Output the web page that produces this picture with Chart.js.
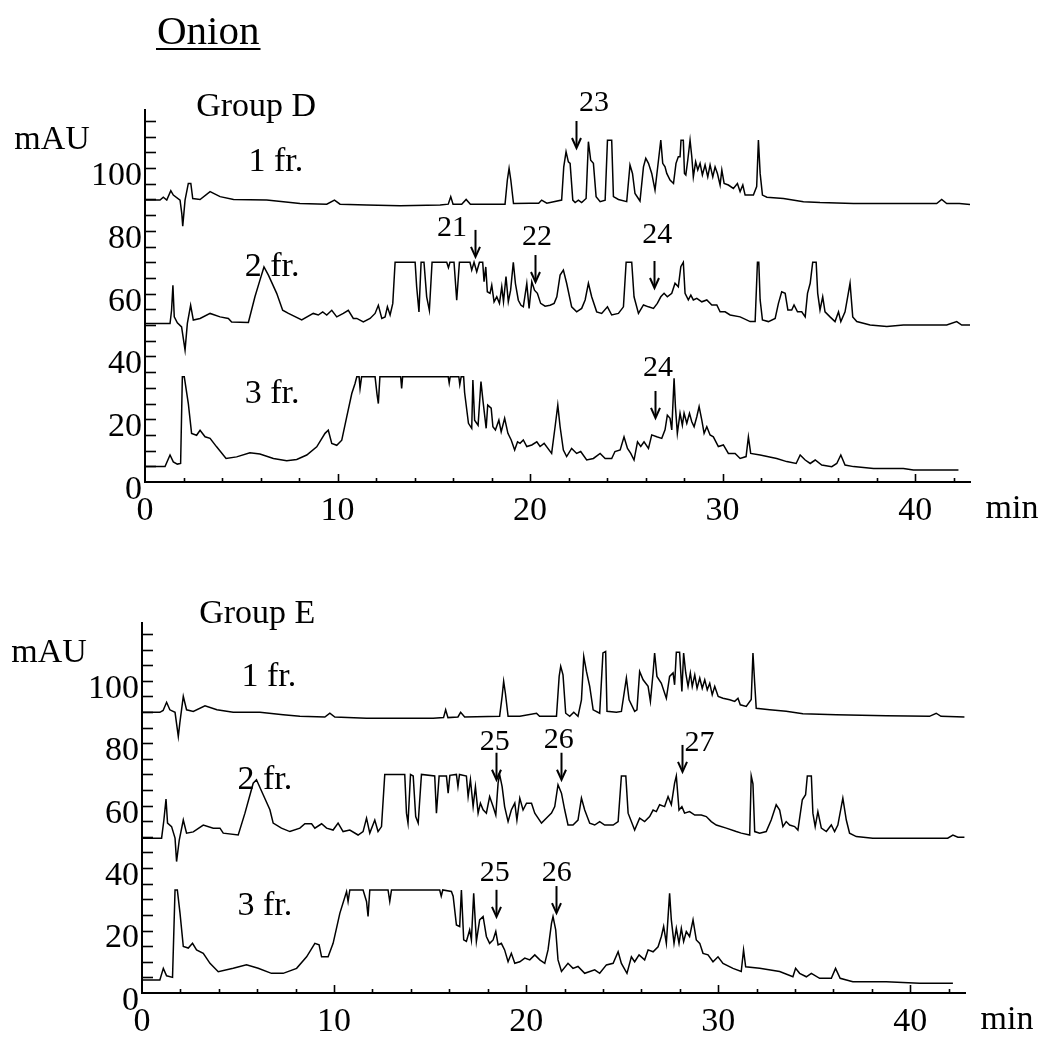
<!DOCTYPE html>
<html><head><meta charset="utf-8">
<script src="https://cdn.jsdelivr.net/npm/chart.js@4/dist/chart.umd.min.js"></script>
<style>
html,body{margin:0;padding:0;background:#fff}
body{width:1058px;height:1041px;position:relative;overflow:hidden}
.box{position:absolute;left:0;width:1058px}
#boxD{top:0;height:520px}
#boxE{top:520px;height:521px}
</style></head><body>
<div class="box" id="boxD"><canvas id="cD"></canvas></div>
<div class="box" id="boxE"><canvas id="cE"></canvas></div>
<script>
// ---------- DATA (time in min, absorbance in mAU) ----------
const xTickLabels = [0, 10, 20, 30, 40];
const yTickLabels = [0, 20, 40, 60, 80, 100];
const fractionNames = ["1 fr.", "2 fr.", "3 fr."];

// Group D, fraction 1
const traceD1 = [[0,89.8],[0.78,89.8],[0.95,90.7],[1.13,89.8],[1.34,92.8],[1.47,91.4],[1.82,89.8],[1.91,85.6],[1.96,81.5],[2.08,89.8],[2.25,95.1],[2.38,95.1],[2.48,90.3],[2.86,90.0],[3.38,92.5],[3.9,90.9],[4.6,90.0],[6.32,89.8],[7.19,89.3],[8.05,88.7],[9.44,88.5],[9.84,89.8],[10.13,88.5],[11.52,88.2],[13.25,88.0],[15.33,88.2],[15.75,88.5],[15.88,90.9],[16.0,88.5],[16.45,88.5],[16.68,90.0],[16.9,88.5],[18.7,88.5],[18.82,96.2],[18.91,99.9],[19.0,96.2],[19.14,88.7],[20.0,88.8],[20.45,88.8],[20.6,89.8],[20.87,88.8],[21.64,89.8],[21.75,100.4],[21.87,105.2],[21.99,102.0],[22.08,101.5],[22.22,89.8],[22.34,89.0],[22.51,89.8],[22.68,89.0],[22.91,90.3],[23.03,108.4],[23.15,102.5],[23.29,101.5],[23.43,90.9],[23.64,89.3],[23.9,89.8],[24.02,108.9],[24.24,108.9],[24.33,90.9],[24.59,90.0],[25.02,89.3],[25.19,101.0],[25.32,98.3],[25.45,91.9],[25.71,89.5],[25.89,100.4],[26.01,103.1],[26.15,101.5],[26.32,98.3],[26.49,93.0],[26.67,102.5],[26.79,108.9],[26.89,101.5],[27.01,100.4],[27.1,98.3],[27.27,96.2],[27.45,95.1],[27.58,101.5],[27.7,103.6],[27.79,103.6],[27.84,108.9],[27.96,108.9],[28.02,98.3],[28.09,97.8],[28.19,102.5],[28.31,108.9],[28.4,103.6],[28.48,97.2],[28.6,102.0],[28.71,99.4],[28.83,101.5],[28.95,97.8],[29.09,101.0],[29.23,97.2],[29.35,101.0],[29.49,97.2],[29.61,100.4],[29.73,98.3],[29.87,94.6],[29.96,99.4],[30.08,95.1],[30.3,94.6],[30.56,93.5],[30.77,95.1],[30.91,92.5],[31.05,94.6],[31.17,91.4],[31.6,91.4],[31.77,94.1],[31.86,108.9],[31.95,98.3],[32.07,91.4],[32.3,90.7],[33.16,90.3],[34.2,89.3],[35.06,89.0],[36.8,88.7],[41.12,88.7],[41.38,90.0],[41.64,88.7],[42.3,88.7],[42.85,88.4]];

// Group D, fraction 2
const traceD2 = [[0,50.5],[1.3,50.5],[1.38,54.7],[1.45,62.7],[1.52,52.6],[1.68,50.7],[1.9,49.4],[2.08,42.0],[2.2,50.5],[2.37,56.3],[2.51,51.6],[2.86,52.1],[3.38,53.7],[3.9,52.6],[4.33,52.1],[4.5,51.0],[5.37,50.8],[5.71,59.0],[5.97,64.3],[6.18,68.5],[6.41,65.9],[6.84,60.1],[7.15,54.7],[7.45,53.7],[8.14,51.6],[8.74,53.7],[9.0,53.2],[9.23,54.2],[9.44,53.2],[9.7,54.7],[9.96,52.6],[10.3,53.7],[10.56,54.7],[10.82,52.1],[11.0,52.1],[11.34,51.0],[11.69,52.1],[11.95,53.7],[12.12,56.3],[12.3,52.1],[12.47,52.6],[12.59,55.8],[12.73,53.2],[12.87,56.9],[12.99,70],[14.03,70],[14.11,62.2],[14.23,54.2],[14.34,70],[14.49,70],[14.63,59.0],[14.77,54.7],[14.91,70],[15.67,70],[15.76,68.3],[15.84,70],[16.05,70],[16.19,57.9],[16.33,70],[16.88,70],[16.97,67.5],[17.09,70],[17.23,67.0],[17.37,70],[17.54,70],[17.61,63.8],[17.7,68.5],[17.78,60.6],[17.92,60.1],[18.01,62.7],[18.13,57.4],[18.27,59.0],[18.41,56.9],[18.53,62.2],[18.62,57.4],[18.75,65.4],[18.87,57.4],[18.99,61.1],[19.13,70],[19.24,63.2],[19.39,57.9],[19.53,56.3],[19.65,55.8],[19.83,63.2],[19.95,55.3],[20.09,63.8],[20.23,61.1],[20.38,60.1],[20.55,56.9],[20.78,56.0],[21.04,56.3],[21.25,56.9],[21.39,59.0],[21.56,65.9],[21.73,67.5],[21.9,63.3],[22.16,55.8],[22.42,54.2],[22.68,55.3],[22.86,58.0],[23.03,63.3],[23.2,59.0],[23.46,54.2],[23.72,53.7],[24.02,55.8],[24.24,53.2],[24.59,53.7],[24.85,55.8],[24.99,70],[25.28,70],[25.4,59.0],[25.63,53.7],[25.89,56.4],[26.15,55.8],[26.41,55.3],[26.61,56.9],[26.79,59.0],[26.96,60.1],[27.13,59.0],[27.36,60.1],[27.53,63.3],[27.7,62.2],[27.83,68.6],[27.96,70],[28.05,60.1],[28.22,58.0],[28.35,59.5],[28.48,58.0],[28.66,58.5],[28.92,57.4],[29.18,58.0],[29.44,56.4],[29.7,56.4],[29.87,54.2],[30.13,54.2],[30.39,53.2],[30.91,52.6],[31.43,51.1],[31.69,51.1],[31.81,70],[31.88,70],[31.95,58.0],[32.07,51.6],[32.38,51.1],[32.73,52.1],[32.9,56.9],[33.07,60.6],[33.25,60.1],[33.39,54.8],[33.59,54.8],[33.71,56.4],[33.89,54.2],[34.11,54.2],[34.29,52.6],[34.41,60.1],[34.55,63.3],[34.68,70],[34.86,70],[34.94,60.1],[35.06,54.8],[35.2,59.0],[35.32,54.2],[35.58,52.6],[35.84,51.1],[36.02,54.2],[36.14,51.1],[36.36,54.2],[36.62,63.3],[36.76,52.6],[36.97,51.1],[37.66,50.0],[38.53,49.5],[39.39,50.0],[41.64,50.0],[42.16,51.1],[42.42,50.0],[42.85,50.0]];

// Group D, fraction 3
const traceD3 = [[0,4.9],[1.04,4.9],[1.3,8.6],[1.47,6.4],[1.68,5.7],[1.85,5.9],[1.94,33.5],[2.04,33.5],[2.25,25.0],[2.42,15.5],[2.68,14.9],[2.86,16.5],[3.12,14.4],[3.38,13.9],[3.72,11.2],[4.21,7.5],[4.76,8.0],[5.45,9.3],[5.97,8.9],[6.67,7.5],[7.36,6.8],[7.88,7.2],[8.4,8.6],[8.92,11.2],[9.35,15.5],[9.52,16.5],[9.7,12.3],[9.96,11.7],[10.22,13.3],[10.48,20.8],[10.74,28.2],[10.91,31.4],[11.0,33.5],[11.12,33.5],[11.17,29.8],[11.25,33.5],[11.95,33.5],[12.05,28.0],[12.12,25.0],[12.2,33.5],[13.28,33.5],[13.33,29.8],[13.38,33.5],[15.75,33.5],[15.8,31.5],[15.85,33.5],[16.3,33.5],[16.35,31.0],[16.42,33.5],[16.55,33.5],[16.6,28.5],[16.8,18.7],[16.97,17.1],[17.03,32.5],[17.12,19.7],[17.3,18.1],[17.45,32.0],[17.55,26.1],[17.72,17.1],[17.8,24.5],[17.98,23.5],[18.07,17.6],[18.2,16.6],[18.38,19.7],[18.5,16.0],[18.68,20.3],[18.85,15.5],[19.02,13.4],[19.2,10.2],[19.35,12.8],[19.48,12.3],[19.65,13.4],[19.83,11.3],[20.09,11.8],[20.35,12.8],[20.52,11.3],[20.73,12.3],[21.12,9.1],[21.3,17.6],[21.44,24.5],[21.56,17.6],[21.73,10.2],[21.9,8.1],[22.16,10.7],[22.42,9.1],[22.63,9.7],[22.94,7.0],[23.29,7.5],[23.64,9.1],[23.9,7.5],[24.24,7.5],[24.41,9.7],[24.68,10.2],[24.88,14.4],[25.06,10.7],[25.23,9.1],[25.4,7.0],[25.58,12.8],[25.75,11.3],[25.92,12.8],[26.15,10.7],[26.32,15.0],[26.58,14.4],[26.84,13.9],[27.01,16.6],[27.13,21.3],[27.27,20.3],[27.36,16.6],[27.48,33.0],[27.55,24.0],[27.65,15.5],[27.79,21.9],[27.91,18.1],[28.0,21.9],[28.14,18.7],[28.28,21.9],[28.4,19.2],[28.52,17.6],[28.66,20.8],[28.78,24.0],[28.92,19.7],[29.04,15.5],[29.18,17.6],[29.35,15.0],[29.52,14.4],[29.78,11.3],[30.04,11.8],[30.3,9.1],[30.65,9.1],[30.91,7.5],[31.22,8.1],[31.34,14.4],[31.46,9.1],[31.95,8.6],[32.81,7.5],[33.33,6.5],[33.82,5.9],[34.03,8.6],[34.29,7.0],[34.55,5.9],[34.81,7.0],[35.15,5.4],[35.67,4.9],[35.93,5.9],[36.14,8.6],[36.36,5.4],[36.8,4.9],[37.84,4.3],[39.39,4.3],[39.91,3.8],[42.25,3.8]];

// Group E, fraction 1
const traceE1 = [[0,89.9],[0.93,89.9],[1.1,90.5],[1.28,93.1],[1.45,90.7],[1.72,89.9],[1.89,82.2],[1.97,86.5],[2.15,95.0],[2.32,90.7],[2.67,90.2],[3.28,92.0],[3.9,90.7],[4.75,89.9],[6.14,89.9],[7.35,89.1],[8.22,88.6],[9.52,88.4],[9.78,89.6],[10.04,88.4],[11.69,88.0],[15.16,88.0],[15.7,88.2],[15.81,90.7],[15.93,88.2],[16.45,88.4],[16.59,89.9],[16.8,88.4],[18.62,88.6],[18.75,95.0],[18.83,99.8],[18.92,96.0],[19.06,88.6],[19.67,88.6],[20.54,89.6],[20.7,88.6],[21.58,88.6],[21.72,101.4],[21.8,104.6],[21.92,101.9],[22.06,89.6],[22.27,88.6],[22.48,89.9],[22.7,88.6],[22.88,93.9],[23.0,107.8],[23.14,103.0],[23.31,98.2],[23.49,90.7],[23.83,89.6],[24.0,108.9],[24.14,109.4],[24.21,90.2],[24.7,89.9],[24.96,90.2],[25.22,100.9],[25.36,93.9],[25.65,90.2],[25.77,90.7],[25.91,103.0],[26.09,100.3],[26.35,98.2],[26.47,93.4],[26.61,102.5],[26.69,108.9],[26.81,101.4],[27.04,99.2],[27.3,94.4],[27.47,101.4],[27.65,102.5],[27.73,98.7],[27.82,109.1],[27.99,109.1],[28.11,96.6],[28.2,108.9],[28.31,102.5],[28.43,98.2],[28.55,102.5],[28.65,98.2],[28.78,101.9],[28.9,97.6],[29.04,100.9],[29.17,97.6],[29.3,100.3],[29.43,97.1],[29.56,99.2],[29.69,95.5],[29.82,98.2],[30.0,95.0],[30.25,94.4],[30.6,93.9],[30.86,93.4],[31.03,94.4],[31.15,92.3],[31.46,91.8],[31.72,94.0],[31.81,108.9],[31.9,99.2],[31.98,91.2],[32.68,90.7],[33.54,90.2],[34.41,89.4],[36.15,89.1],[38.75,88.8],[41.0,88.6],[41.35,89.6],[41.6,88.6],[42.82,88.4]];

// Group E, fraction 2
const traceE2 = [[0,49.6],[1.02,49.6],[1.14,55.4],[1.25,62.1],[1.33,54.4],[1.54,53.3],[1.72,49.6],[1.8,42.1],[1.94,49.0],[2.15,55.4],[2.32,51.2],[2.67,51.6],[3.19,53.8],[3.71,52.8],[4.06,52.8],[4.23,51.2],[5.01,50.6],[5.36,57.6],[5.79,67.2],[5.96,68.3],[6.31,63.5],[6.66,58.7],[6.83,54.4],[7.26,52.8],[7.7,51.7],[8.22,52.8],[8.48,54.2],[8.83,54.2],[9.0,52.8],[9.35,54.2],[9.61,52.8],[9.95,52.2],[10.21,54.4],[10.47,51.7],[10.82,52.2],[11.25,50.6],[11.51,51.7],[11.69,56.0],[11.86,51.2],[12.12,55.4],[12.29,51.7],[12.47,53.3],[12.64,70],[13.68,70],[13.77,57.6],[13.85,54.4],[13.98,70],[14.12,69.5],[14.25,56.5],[14.38,54.4],[14.55,70],[15.24,69.5],[15.33,57.6],[15.47,69.5],[15.85,69.5],[15.94,64.0],[16.03,69.7],[16.37,70],[16.45,66.1],[16.53,70],[16.89,69.5],[16.98,62.9],[17.1,68.3],[17.24,59.7],[17.36,66.1],[17.5,57.6],[17.62,60.8],[17.76,58.7],[17.93,57.6],[18.1,62.9],[18.28,59.7],[18.42,57.0],[18.54,67.2],[18.62,70],[18.75,66.1],[18.88,59.7],[19.06,54.9],[19.23,58.6],[19.41,60.8],[19.52,55.4],[19.67,62.4],[19.84,58.6],[20.02,60.8],[20.28,60.8],[20.45,57.6],[20.8,54.4],[21.14,56.5],[21.32,57.6],[21.49,59.7],[21.66,66.7],[21.84,64.0],[22.01,58.6],[22.18,53.8],[22.44,53.8],[22.7,55.4],[22.88,62.4],[23.05,58.6],[23.31,54.4],[23.57,53.8],[23.83,54.9],[24.09,53.8],[24.53,53.8],[24.79,54.9],[24.96,69.5],[25.19,69.5],[25.31,57.6],[25.65,52.2],[25.91,56.0],[26.17,54.9],[26.43,56.5],[26.61,58.6],[26.78,58.1],[26.95,60.3],[27.21,59.7],[27.39,62.9],[27.56,60.3],[27.73,67.2],[27.82,69.5],[27.96,58.6],[28.11,59.7],[28.25,57.6],[28.51,58.1],[28.78,57.0],[29.12,57.0],[29.38,56.5],[29.64,54.9],[29.9,53.8],[30.42,52.8],[30.94,51.7],[31.2,51.2],[31.64,50.6],[31.72,69.5],[31.81,67.0],[31.9,51.7],[32.16,51.2],[32.5,51.7],[32.76,55.4],[33.02,60.3],[33.2,58.6],[33.37,53.3],[33.54,54.9],[33.72,53.8],[33.98,53.3],[34.15,52.2],[34.38,61.9],[34.55,63.5],[34.64,69.5],[34.85,69.5],[34.93,57.6],[35.05,53.3],[35.19,58.1],[35.37,52.8],[35.63,51.7],[35.89,53.8],[36.06,51.7],[36.23,53.8],[36.49,62.4],[36.67,55.4],[36.84,51.2],[37.19,50.1],[38.05,49.6],[39.61,49.6],[41.95,49.6],[42.22,50.6],[42.48,49.9],[42.82,49.9]];

// Group E, fraction 3
const traceE3 = [[0,4.2],[0.93,4.2],[1.11,7.9],[1.28,5.5],[1.59,5.0],[1.72,33.0],[1.84,33.0],[1.98,25.5],[2.15,14.9],[2.41,14.4],[2.63,15.9],[2.84,13.8],[3.19,12.7],[3.54,9.5],[3.97,6.8],[4.75,7.9],[5.44,9.0],[6.05,7.9],[6.74,6.3],[7.35,6.3],[8.05,7.9],[8.57,11.6],[9.0,15.9],[9.22,15.4],[9.35,11.6],[9.69,11.6],[9.95,15.9],[10.3,25.5],[10.65,32.5],[10.73,29.3],[10.82,33.0],[11.51,33.0],[11.69,29.3],[11.77,24.5],[11.86,33.0],[12.81,33.0],[12.9,29.3],[12.99,33.0],[15.5,33.0],[15.58,31.0],[15.66,33.0],[16.11,32.5],[16.2,31.0],[16.37,21.8],[16.54,21.3],[16.63,33.0],[16.75,17.0],[16.89,16.5],[17.06,20.2],[17.15,17.0],[17.27,31.9],[17.41,16.5],[17.58,23.4],[17.76,24.5],[17.93,18.1],[18.1,15.9],[18.28,17.0],[18.42,19.7],[18.54,15.4],[18.71,15.9],[18.88,13.8],[19.06,10.0],[19.23,12.7],[19.41,9.5],[19.67,10.0],[19.93,11.2],[20.19,10.6],[20.45,12.2],[20.71,10.6],[20.97,9.5],[21.14,13.8],[21.32,22.3],[21.4,24.5],[21.54,20.2],[21.66,10.6],[21.84,6.9],[22.18,9.5],[22.44,7.9],[22.7,8.5],[23.05,6.3],[23.57,7.4],[23.83,6.3],[24.18,9.0],[24.53,9.5],[24.79,13.2],[24.96,9.5],[25.25,6.3],[25.48,11.6],[25.65,10.0],[25.88,12.2],[26.17,10.6],[26.35,13.8],[26.61,13.2],[26.87,14.8],[27.04,18.1],[27.16,21.3],[27.3,15.9],[27.47,31.9],[27.56,23.4],[27.7,15.9],[27.82,20.7],[27.96,15.9],[28.08,20.7],[28.2,16.5],[28.34,19.7],[28.51,18.1],[28.69,23.4],[28.86,17.0],[29.04,15.9],[29.21,12.7],[29.47,12.2],[29.73,10.0],[29.99,11.6],[30.25,9.5],[30.77,7.9],[31.2,6.9],[31.32,13.8],[31.43,8.4],[32.16,7.9],[33.2,6.9],[33.89,5.2],[34.03,7.9],[34.24,6.3],[34.59,5.2],[34.85,6.3],[35.28,4.7],[35.89,4.7],[36.11,7.9],[36.35,4.7],[37.01,3.6],[38.75,3.6],[40.48,3.1],[42.22,3.1]];

// Peak annotations: label, arrow time, arrow tip (mAU), label time, label mAU
const peakLabelsD = ["23", "21", "22", "24", "24"];
const peakTimeD   = [22.39, 17.14, 20.26, 26.44, 26.49];
const peakTipD    = [106.4, 71.7, 63.7, 61.8, 20.4];
const peakLabTD   = [23.32, 15.95, 20.36, 26.6, 26.65];
const peakLabVD   = [120.7, 80.9, 78.0, 78.7, 36.3];

const peakLabelsE = ["25", "26", "27", "25", "26"];
const peakTimeE   = [18.42, 21.8, 28.1, 18.42, 21.54];
const peakTipE    = [68.3, 68.3, 70.8, 24.4, 25.6];
const peakLabTE   = [18.37, 21.7, 29.03, 18.37, 21.6];
const peakLabVE   = [80.4, 81.1, 80.1, 38.5, 38.5];

// Fraction label anchors (min, mAU)
const fracTimeD = [6.8, 6.6, 6.6];
const fracMauD  = [102.0, 68.5, 28.0];
const fracTimeE = [6.6, 6.4, 6.4];
const fracMauE  = [101.3, 68.3, 27.9];
const groupD = {name: "Group D", t: 5.77, v: 119.4};
const groupE = {name: "Group E", t: 6.0, v: 121.2};
const xMax = 42.85, yMax = 118.5;

// ---------- RENDERING ----------
const FONT = '"Liberation Serif", "Times New Roman", serif';
Chart.defaults.font.family = FONT;
Chart.defaults.color = '#000';

function overlay(cfg){
  return {
    id: 'overlay' + cfg.key,
    afterDraw(chart){
      const ctx = chart.ctx, x = chart.scales.x, y = chart.scales.y;
      ctx.save();
      ctx.strokeStyle = '#000'; ctx.fillStyle = '#000';
      // inward y tick marks
      ctx.lineWidth = 1.6;
      y.ticks.forEach(tk => {
        if (tk.value <= 0) return;
        const py = Math.round(y.getPixelForValue(tk.value)) + 0.5;
        ctx.beginPath(); ctx.moveTo(x.left, py); ctx.lineTo(x.left + 11, py); ctx.stroke();
      });
      // inward x tick marks
      x.ticks.forEach(tk => {
        if (tk.value <= 0) return;
        const px = Math.round(x.getPixelForValue(tk.value)) + 0.5;
        const len = (tk.value % 10 === 0) ? 8 : 4;
        ctx.beginPath(); ctx.moveTo(px, y.bottom); ctx.lineTo(px, y.bottom - len); ctx.stroke();
      });
      ctx.textAlign = 'center'; ctx.textBaseline = 'middle';
      ctx.font = '34px ' + FONT;
      fractionNames.forEach((s, i) => ctx.fillText(s, x.getPixelForValue(cfg.fracT[i]), y.getPixelForValue(cfg.fracV[i])));
      ctx.fillText(cfg.group.name, x.getPixelForValue(cfg.group.t), y.getPixelForValue(cfg.group.v));
      ctx.fillText('mAU', x.left - 93, y.getPixelForValue(109));
      ctx.fillText('min', x.right + 42, y.bottom + 27);
      // arrows with peak numbers
      cfg.labels.forEach((s, i) => {
        const px = Math.round(x.getPixelForValue(cfg.times[i])) + 0.5;
        const tip = y.getPixelForValue(cfg.tips[i]);
        ctx.lineWidth = 2;
        ctx.beginPath(); ctx.moveTo(px, tip - 27); ctx.lineTo(px, tip - 1); ctx.stroke();
        ctx.beginPath(); ctx.moveTo(px - 4.5, tip - 10); ctx.lineTo(px, tip); ctx.lineTo(px + 4.5, tip - 10); ctx.stroke();
        ctx.font = '30px ' + FONT;
        ctx.fillText(s, x.getPixelForValue(cfg.labT[i]), y.getPixelForValue(cfg.labV[i]));
      });
      if (cfg.title) {
        ctx.textAlign = 'left'; ctx.textBaseline = 'alphabetic';
        ctx.font = '41px ' + FONT;
        ctx.fillText(cfg.title, 157, 44);
        const w = ctx.measureText(cfg.title).width;
        ctx.fillRect(156, 48, w + 2, 2);
      }
      ctx.restore();
    }
  };
}

function makeChart(id, traces, cfg){
  return new Chart(document.getElementById(id), {
    type: 'line',
    data: { datasets: traces.map(tr => ({
      data: tr.map(p => ({x: p[0], y: p[1]})),
      borderColor: '#000', borderWidth: 1.5, pointRadius: 0, tension: 0, fill: false
    }))},
    options: {
      responsive: true, maintainAspectRatio: false, animation: false,
      events: [],
      layout: { padding: { top: cfg.padTop, right: cfg.padRight, left: 0, bottom: 0 } },
      plugins: { legend: { display: false }, tooltip: { enabled: false }, title: { display: false } },
      scales: {
        x: {
          type: 'linear', min: 0, max: xMax,
          afterFit: s => { s.height = cfg.xh; },
          grid: { display: false, drawTicks: false },
          border: { display: true, color: '#000', width: 2 },
          ticks: { stepSize: 2, autoSkip: false, includeBounds: false, maxRotation: 0, padding: 9,
                   font: { size: 34 }, color: '#000',
                   callback: v => xTickLabels.includes(v) ? String(v) : '' }
        },
        y: {
          type: 'linear', min: 0, max: yMax,
          afterFit: s => { s.width = cfg.yw; },
          grid: { display: false, drawTicks: false },
          border: { display: true, color: '#000', width: 2 },
          ticks: { stepSize: 5, autoSkip: false, includeBounds: false, padding: 3, labelOffset: 8,
                   font: { size: 34 }, color: '#000',
                   callback: v => yTickLabels.includes(v) ? String(v) : '' }
        }
      }
    },
    plugins: [overlay(cfg)]
  });
}

makeChart('cD', [traceD1, traceD2, traceD3], {
  key: 'D', padTop: 110, padRight: 88, xh: 38, yw: 145,
  fracT: fracTimeD, fracV: fracMauD, group: groupD,
  labels: peakLabelsD, times: peakTimeD, tips: peakTipD, labT: peakLabTD, labV: peakLabVD,
  title: 'Onion'
});
makeChart('cE', [traceE1, traceE2, traceE3], {
  key: 'E', padTop: 103, padRight: 93, xh: 48, yw: 142,
  fracT: fracTimeE, fracV: fracMauE, group: groupE,
  labels: peakLabelsE, times: peakTimeE, tips: peakTipE, labT: peakLabTE, labV: peakLabVE
});
</script>
</body></html>
